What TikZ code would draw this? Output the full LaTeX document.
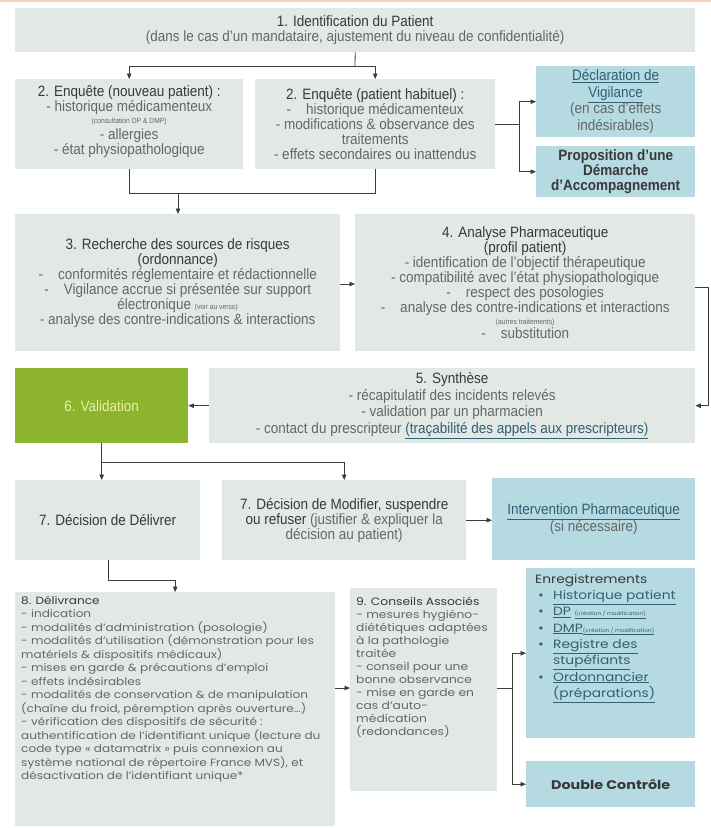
\documentclass[tikz,border=0pt]{standalone}
\usepackage{fontspec}
\setmainfont{Liberation Sans}[FakeStretch=0.9]
\newfontfamily\lowfont{Poppins}[FakeStretch=1.15]
\usetikzlibrary{arrows.meta}
\definecolor{boxg}{HTML}{E2E9E4}
\definecolor{boxb}{HTML}{B6DAE2}
\definecolor{boxv}{HTML}{8CB42C}
\definecolor{valt}{HTML}{E9F2A6}
\definecolor{txt}{HTML}{666666}
\definecolor{ttl}{HTML}{383838}
\definecolor{lnk}{HTML}{2F6073}
\definecolor{lin}{HTML}{3C3C3C}
\definecolor{orng}{HTML}{F7D3B0}
\newcommand{\ttlx}{\color{ttl}}
\newcommand{\lk}[1]{{\color{lnk}\underline{#1}}}
\newcommand{\smx}{\fontsize{7.5}{9}\selectfont}
\newcommand{\upf}{\fontsize{15}{15}\selectfont}
\newcommand{\lowf}{\lowfont\fontsize{10.5}{13.5}\selectfont}
\newcommand{\enf}{\lowfont\fontsize{12}{16.3}\selectfont}
\newcommand{\tinyx}{\fontsize{5}{6}\selectfont}
\newcommand{\bl}{\makebox[18pt][l]{\hspace{3pt}{\color{lnk}\textbullet}}}
\newcommand{\nbl}{\hspace*{18pt}}
\tikzset{
  box/.style={fill=boxg, inner sep=2pt, anchor=north west, align=center, text=txt, font=\upf},
  bbox/.style={box, fill=boxb},
  txtl/.style={anchor=north west, inner sep=0pt, align=left, text=txt},
  conn/.style={draw=lin, line width=0.8pt},
  arr/.style={conn, -{Triangle[length=5.5pt,width=4.5pt]}},
}
\begin{document}
\begin{tikzpicture}[x=1pt,y=-1pt]
\useasboundingbox (0,0) rectangle (711,828);
\fill[white] (0,0) rectangle (711,828);
\fill[orng] (0,0) rectangle (711,1.8);

% boxes
\node[box, minimum width=680pt, minimum height=44pt] (b1) at (15,8)
  {{\ttlx 1. Identification du Patient}\\(dans le cas d'un mandataire, ajustement du niveau de confidentialité)};
\node[box, minimum width=228pt, minimum height=90pt] (b2a) at (15,79) {};
\node[anchor=north, inner sep=0pt, align=center, text=txt, font=\upf] (t2a) at ([yshift=-6pt]b2a.north)
  {{\ttlx 2. Enquête (nouveau patient) :}\\
   - historique médicamenteux\\[-3pt]
   {\smx (consultation DP \& DMP)}\\[1pt]
   - allergies\\[0pt]
   - état physiopathologique};
\node[box, minimum width=240pt, minimum height=90pt] (b2b) at (255,79)
  {{\ttlx 2. Enquête (patient habituel) :}\\
   -\quad historique médicamenteux\\
   - modifications \& observance des\\
   traitements\\
   - effets secondaires ou inattendus};
\node[bbox, minimum width=159pt, minimum height=71pt, font=\fontsize{15}{16.5}\selectfont] (dv) at (536,66)
  {\lk{Déclaration de}\\\lk{Vigilance}\\(en cas d'effets\\indésirables)};
\node[bbox, minimum width=159pt, minimum height=51pt, text=ttl, font=\upf\bfseries] (pda) at (536,146)
  {Proposition d'une\\Démarche\\d'Accompagnement};
\node[box, minimum width=325pt, minimum height=137pt] (b3) at (15,214)
  {{\ttlx 3. Recherche des sources de risques}\\
   {\ttlx (ordonnance)}\\
   -\quad conformités réglementaire et rédactionnelle\\
   -\quad Vigilance accrue si présentée sur support\\
   électronique {\smx (voir au verso)}\\
   - analyse des contre-indications \& interactions};
\node[box, minimum width=340pt, minimum height=137pt] (b4) at (355,214)
  {{\ttlx 4. Analyse Pharmaceutique}\\
   {\ttlx (profil patient)}\\
   - identification de l'objectif thérapeutique\\
   - compatibilité avec l'état physiopathologique\\
   -\quad respect des posologies\\
   -\quad analyse des contre-indications et interactions\\[-3pt]
   {\smx (autres traitements)}\\[-1pt]
   -\quad substitution};
\node[box, minimum width=486pt, minimum height=75pt, font=\fontsize{15}{16.5}\selectfont] (b5) at (209,368)
  {{\ttlx 5. Synthèse}\\
   - récapitulatif des incidents relevés\\
   - validation par un pharmacien\\
   - contact du prescripteur \lk{(traçabilité des appels aux prescripteurs)}};
\node[box, fill=boxv, text=valt, minimum width=173pt, minimum height=75pt] (b6) at (15,368)
  {6. Validation};
\node[box, minimum width=185pt, minimum height=80pt, text=ttl] (b7a) at (15,480)
  {7. Décision de Délivrer};
\node[box, minimum width=244pt, minimum height=80pt] (b7b) at (222,480)
  {{\ttlx 7. Décision de Modifier, suspendre}\\
   {\ttlx ou refuser} (justifier \& expliquer la\\
   décision au patient)};
\node[bbox, minimum width=203pt, minimum height=82pt] (ip) at (492,478)
  {\lk{Intervention Pharmaceutique}\\(si nécessaire)};
\node[box, minimum width=320pt, minimum height=234pt] (b8) at (15,592) {};
\node[box, minimum width=147pt, minimum height=203pt] (b9) at (350,588) {};
\node[bbox, minimum width=169pt, minimum height=170pt] (enr) at (526,568) {};
\node[bbox, minimum width=169pt, minimum height=46pt, text=ttl, font=\lowfont\fontsize{12.5}{14}\selectfont\bfseries] (dc) at (526,761)
  {Double Contrôle};

% texts of lower boxes
\node[txtl, font=\lowf] (t8) at (21,596)
  {{\ttlx 8. Délivrance}\\
   - indication\\
   - modalités d’administration (posologie)\\
   - modalités d’utilisation (démonstration pour les\\
   matériels \& dispositifs médicaux)\\
   - mises en garde \& précautions d’emploi\\
   - effets indésirables\\
   - modalités de conservation \& de manipulation\\
   (chaîne du froid, péremption après ouverture…)\\
   - vérification des dispositifs de sécurité :\\
   authentification de l’identifiant unique (lecture du\\
   code type « datamatrix » puis connexion au\\
   système national de répertoire France MVS), et\\
   désactivation de l’identifiant unique*};
\node[txtl, font=\lowfont\fontsize{10.7}{13}\selectfont] (t9) at (356,597)
  {{\ttlx 9. Conseils Associés}\\
   - mesures hygiéno-\\
   diététiques adaptées\\
   à la pathologie\\
   traitée\\
   - conseil pour une\\
   bonne observance\\
   - mise en garde en\\
   cas d’auto-\\
   médication\\
   (redondances)};
\node[txtl, font=\enf] (te) at (535,574)
  {{\ttlx Enregistrements}\\
   \bl\lk{Historique patient}\\
   \bl\lk{DP} {\tinyx\lk{(création / modification)}}\\
   \bl\lk{DMP}{\tinyx\lk{(création / modification)}}\\
   \bl\lk{Registre des}\\
   \nbl\lk{stupéfiants}\\
   \bl\lk{Ordonnancier}\\
   \nbl\lk{(préparations)}};

% helper coordinates
\coordinate (c1) at (355,66);
\coordinate (c2) at (519,124);
\coordinate (y193) at (0,193);
\coordinate (c4) at (178,193);
\coordinate (y284) at (0,284);
\coordinate (c5) at (708,287);
\coordinate (c6) at (102,462);
\coordinate (c7) at (108,580);
\coordinate (y688) at (0,688);
\coordinate (c8) at (512,688);

% connectors
\draw[conn] (b1.south) -- (c1);
\draw[arr] (c1) -| (b2a.north);
\draw[arr] (c1) -| (b2b.north);
\draw[conn] (b2b.east |- c2) -- (c2);
\draw[arr] (c2) |- (dv.west);
\draw[arr] (c2) |- (pda.west);
\draw[conn] (b2a.south) -- (b2a.south |- y193) -- (b2b.south |- y193) -- (b2b.south);
\draw[arr] (c4) -- (c4 |- b3.north);
\draw[arr] (b3.east |- y284) -- (b4.west |- y284);
\draw[arr] (b4.east |- c5) -- (c5) |- (b5.east);
\draw[arr] (b5.west) -- (b6.east);
\draw[conn] (b6.south) -- (b6.south |- c6);
\draw[arr] (b6.south |- c6) -- (b6.south |- b7a.north);
\draw[arr] (b6.south |- c6) -| (b7b.north);
\draw[arr] (b7b.east) -- (b7b.east -| ip.west);
\draw[arr] (b7a.south -| c7) -- (c7) -| (b8.north);
\draw[arr] (b8.east |- y688) -- (b9.west |- y688);
\draw[conn] (b9.east |- c8) -- (c8);
\draw[arr] (c8) |- (enr.west);
\draw[arr] (c8) |- (dc.west);
\end{tikzpicture}
\end{document}
